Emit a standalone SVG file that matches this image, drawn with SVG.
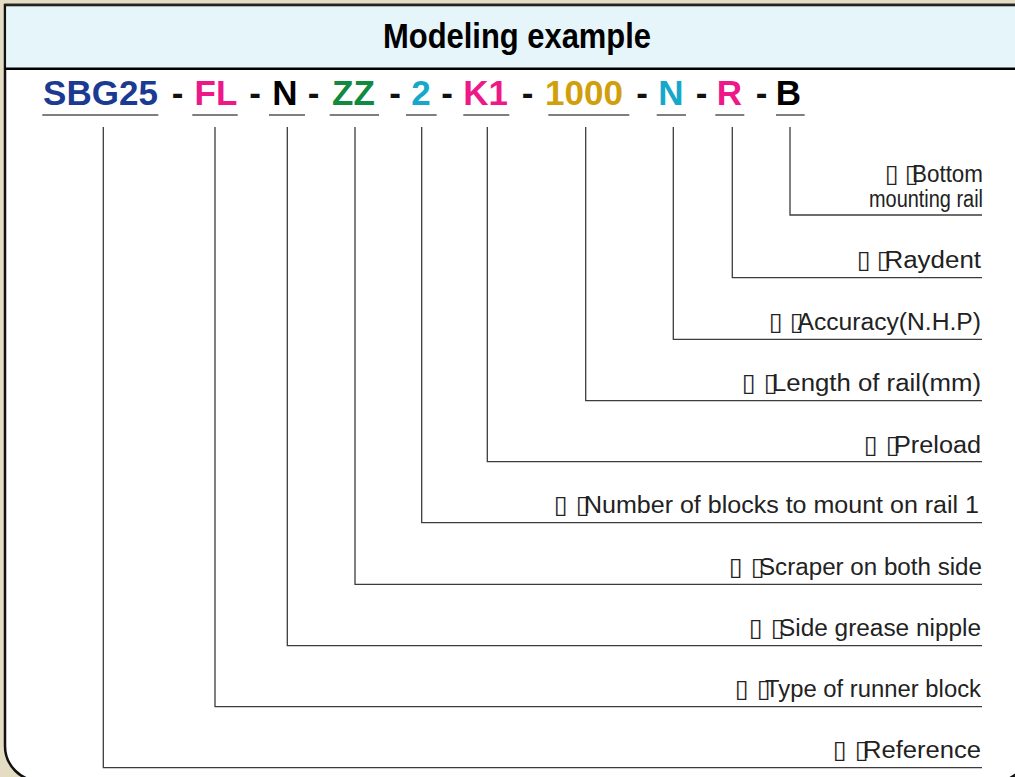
<svg xmlns="http://www.w3.org/2000/svg" width="1015" height="777" viewBox="0 0 1015 777">
<style>
.code{font-family:"Liberation Sans",Arial,sans-serif;font-weight:bold;font-size:35px;text-anchor:middle}
.dash{fill:#111}
.lbl{font-family:"Liberation Sans",Arial,sans-serif;font-size:23px;fill:#222}
.box{font-family:"DejaVu Sans",sans-serif;font-size:25px;fill:#222}
.ul{stroke:#555;stroke-width:1.4;fill:none}
.lead{stroke:#3c3c3c;stroke-width:1.3;fill:none}
</style>
<rect x="0" y="0" width="1015" height="777" fill="#e4ddc3"/>
<g id="panel">
<path d="M5,5 H1030 V746 A35,35 0 0 1 990,781 H40 A35,35 0 0 1 5,746 Z" fill="#ffffff" stroke="#111" stroke-width="2.5"/>
<rect x="6.3" y="6.3" width="1010" height="61.4" fill="#e6f5fa"/>
<line x1="5" y1="68.7" x2="1015" y2="68.7" stroke="#000" stroke-width="2.5"/>
<line x1="5" y1="5" x2="1015" y2="5" stroke="#222" stroke-width="2.5"/>
</g>
<g id="title">
<text x="383" y="48" font-family="Liberation Sans, Arial, sans-serif" font-weight="bold" font-size="35" fill="#000" textLength="268" lengthAdjust="spacingAndGlyphs">Modeling example</text>
</g>
<g id="code">
<text class="code" x="100.5" y="104.5" fill="#1b3a92">SBG25</text>
<text class="code dash" x="177.5" y="104.5">-</text>
<text class="code" x="216" y="104.5" fill="#ee1888">FL</text>
<text class="code dash" x="255" y="104.5">-</text>
<text class="code" x="285" y="104.5" fill="#000">N</text>
<text class="code dash" x="313.5" y="104.5">-</text>
<text class="code" x="353.5" y="104.5" fill="#108a3e">ZZ</text>
<text class="code dash" x="395" y="104.5">-</text>
<text class="code" x="421" y="104.5" fill="#16a8cb">2</text>
<text class="code dash" x="447" y="104.5">-</text>
<text class="code" x="485.5" y="104.5" fill="#ee1888">K1</text>
<text class="code dash" x="527.5" y="104.5">-</text>
<text class="code" x="584" y="104.5" fill="#d19e0c">1000</text>
<text class="code dash" x="642" y="104.5">-</text>
<text class="code" x="671" y="104.5" fill="#16a8cb">N</text>
<text class="code dash" x="701.7" y="104.5">-</text>
<text class="code" x="729.5" y="104.5" fill="#ee1888">R</text>
<text class="code dash" x="761.7" y="104.5">-</text>
<text class="code" x="788.5" y="104.5" fill="#000">B</text>
</g>
<g id="underlines">
<path class="ul" d="M42.3,115H158.3 M192.3,115H237.7 M269,115H305 M329.7,115H379 M406,115H436.7 M463.3,115H509.3 M548.3,115H629.3 M656.7,115H686 M715.3,115H744.3 M776,115H804.7"/>
</g>
<g id="connectors">
<path class="lead" d="M103.3,127V767.7H982"/>
<path class="lead" d="M215,127V706.7H982"/>
<path class="lead" d="M287.3,127V645.7H982"/>
<path class="lead" d="M355,127V584.3H982"/>
<path class="lead" d="M421.7,127V522.7H982"/>
<path class="lead" d="M487.3,127V461.7H982"/>
<path class="lead" d="M585.7,127V400.7H982"/>
<path class="lead" d="M673.3,127V339.3H982"/>
<path class="lead" d="M732.3,127V277.7H982"/>
<path class="lead" d="M790,127V215H982"/>
</g>
<g id="label-bottom">
<text y="181.7"><tspan class="box" x="885">▯</tspan><tspan class="box" x="905">▯</tspan><tspan class="lbl" x="912" textLength="71" lengthAdjust="spacingAndGlyphs">Bottom</tspan></text>
<text class="lbl" x="869" y="206.7" textLength="114" lengthAdjust="spacingAndGlyphs">mounting rail</text>
</g>
<g id="label-raydent">
<text y="268.3"><tspan class="box" x="857">▯</tspan><tspan class="box" x="877">▯</tspan><tspan class="lbl" x="884.5" textLength="96.5" lengthAdjust="spacingAndGlyphs">Raydent</tspan></text>
</g>
<g id="label-accuracy">
<text y="330"><tspan class="box" x="769">▯</tspan><tspan class="box" x="790">▯</tspan><tspan class="lbl" x="797.5" textLength="183.5" lengthAdjust="spacingAndGlyphs">Accuracy(N.H.P)</tspan></text>
</g>
<g id="label-length">
<text y="390.5"><tspan class="box" x="742">▯</tspan><tspan class="box" x="764">▯</tspan><tspan class="lbl" x="772" textLength="209" lengthAdjust="spacingAndGlyphs">Length of rail(mm)</tspan></text>
</g>
<g id="label-preload">
<text y="452.5"><tspan class="box" x="864">▯</tspan><tspan class="box" x="886">▯</tspan><tspan class="lbl" x="894" textLength="87" lengthAdjust="spacingAndGlyphs">Preload</tspan></text>
</g>
<g id="label-number">
<text y="513.3"><tspan class="box" x="554">▯</tspan><tspan class="box" x="576">▯</tspan><tspan class="lbl" x="584" textLength="395" lengthAdjust="spacingAndGlyphs">Number of blocks to mount on rail 1</tspan></text>
</g>
<g id="label-scraper">
<text y="574.5"><tspan class="box" x="729">▯</tspan><tspan class="box" x="751">▯</tspan><tspan class="lbl" x="759" textLength="223" lengthAdjust="spacingAndGlyphs">Scraper on both side</tspan></text>
</g>
<g id="label-side">
<text y="635.5"><tspan class="box" x="749">▯</tspan><tspan class="box" x="771">▯</tspan><tspan class="lbl" x="779" textLength="202" lengthAdjust="spacingAndGlyphs">Side grease nipple</tspan></text>
</g>
<g id="label-type">
<text y="696.5"><tspan class="box" x="735">▯</tspan><tspan class="box" x="757">▯</tspan><tspan class="lbl" x="765" textLength="216" lengthAdjust="spacingAndGlyphs">Type of runner block</tspan></text>
</g>
<g id="label-reference">
<text y="757.5"><tspan class="box" x="833">▯</tspan><tspan class="box" x="855">▯</tspan><tspan class="lbl" x="863" textLength="118" lengthAdjust="spacingAndGlyphs">Reference</tspan></text>
</g>
</svg>
